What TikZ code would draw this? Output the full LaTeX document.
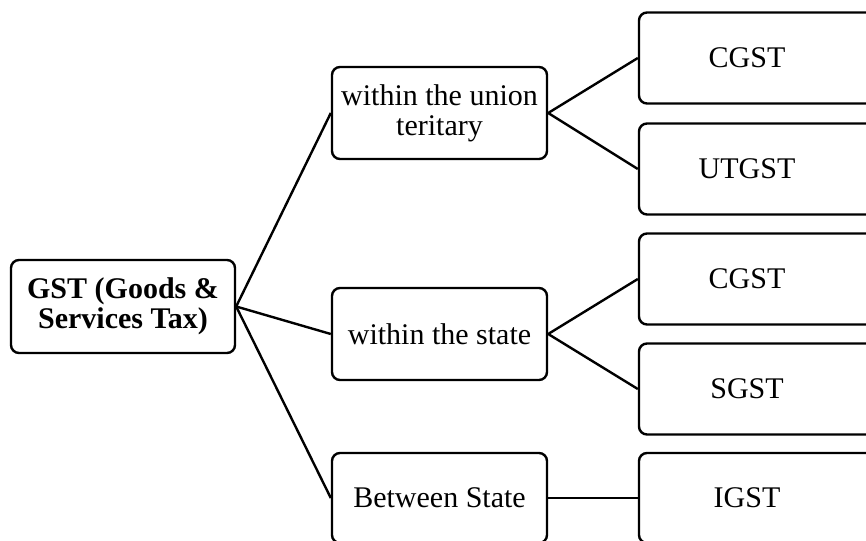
\documentclass[tikz,border=0pt]{standalone}
\usepackage{fontspec}
\setmainfont{Liberation Serif}
\begin{document}
\begin{tikzpicture}[x=1pt,y=-1pt,
  box/.style={draw, line width=2.4pt, rounded corners=8pt, align=center, inner sep=0pt,
    font=\fontsize{30}{30}\selectfont},
  mbox/.style={box, minimum width=215pt, minimum height=92pt},
  rbox/.style={box, minimum width=260pt, minimum height=91pt},
  link/.style={line width=2.4pt}]
\useasboundingbox (0,0) rectangle (866,540);
\clip (0,0) rectangle (866,540);
\node[box, minimum width=224pt, minimum height=93pt, font=\fontsize{30}{30}\selectfont\bfseries] (root) at (123,306.5) {GST (Goods \&\\Services Tax)};
\node[mbox] (m1) at (439.5,113) {within the union\\teritary};
\node[mbox] (m2) at (439.5,334) {within the state};
\node[mbox, minimum height=90pt] (m3) at (439.5,498) {Between State};
\node[rbox] (r1) at (769,58) {\makebox[260pt][l]{\makebox[216pt]{CGST}}};
\node[rbox] (r2) at (769,169) {\makebox[260pt][l]{\makebox[216pt]{UTGST}}};
\node[rbox] (r3) at (769,279) {\makebox[260pt][l]{\makebox[216pt]{CGST}}};
\node[rbox] (r4) at (769,389) {\makebox[260pt][l]{\makebox[216pt]{SGST}}};
\node[rbox, minimum height=90pt] (r5) at (769,498) {\makebox[260pt][l]{\makebox[216pt]{IGST}}};
\draw[link] (root.east) -- (m1.west);
\draw[link] (root.east) -- (m2.west);
\draw[link] (root.east) -- (m3.west);
\draw[link] (m1.east) -- (r1.west);
\draw[link] (m1.east) -- (r2.west);
\draw[link] (m2.east) -- (r3.west);
\draw[link] (m2.east) -- (r4.west);
\draw[link] (m3.east) -- (r5.west);
\end{tikzpicture}
\end{document}
